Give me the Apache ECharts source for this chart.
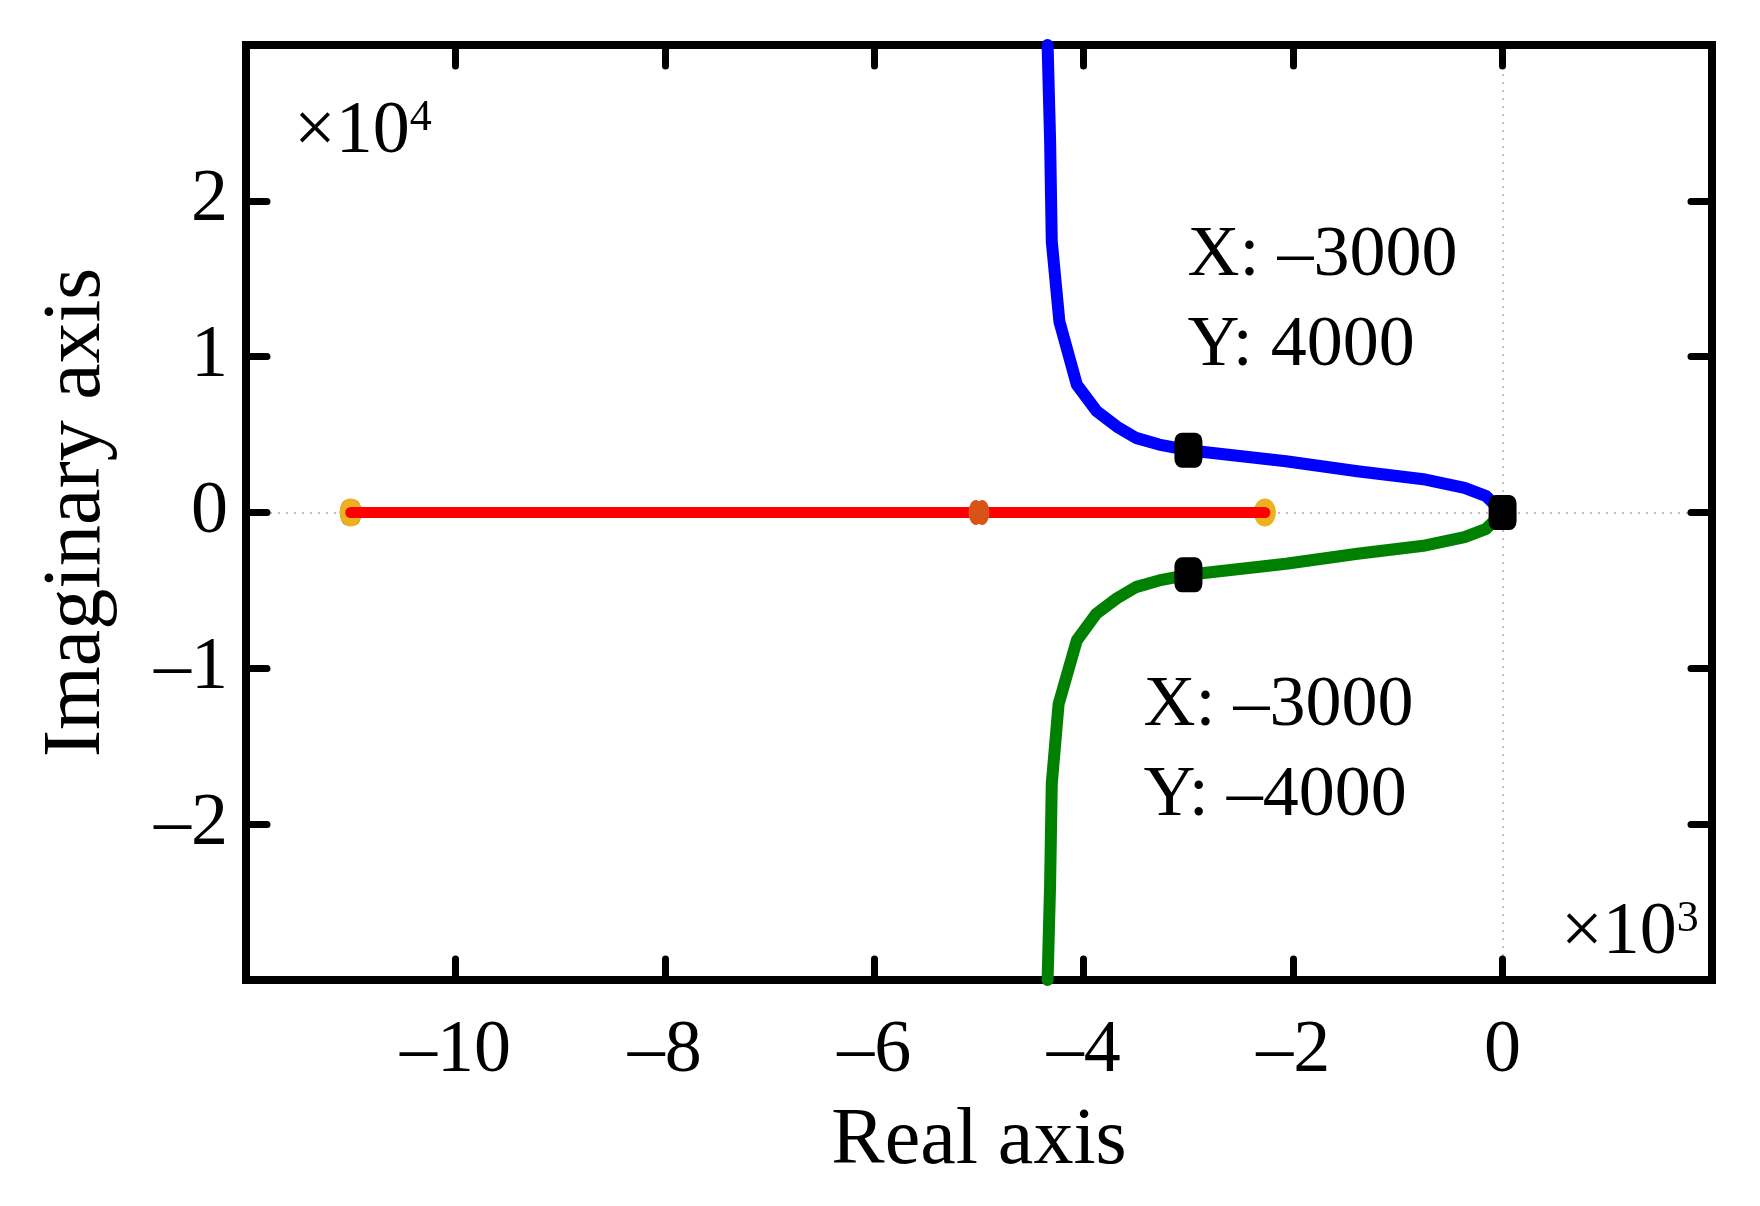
<!DOCTYPE html>
<html>
<head>
<meta charset="utf-8">
<script src="https://cdn.jsdelivr.net/npm/echarts@6/dist/echarts.min.js"></script>
<style>
  html, body { margin: 0; padding: 0; background: #fff; }
  #chart { width: 1760px; height: 1206px; }
</style>
</head>
<body>
<div id="chart"></div>
<script>
// root locus branches (real part, imaginary part)
var upperX = [-4345, -4321, -4305, -4232, -4066, -3875, -3684, -3502, -3280, -3000, -2068, -1386, -736, -363, -156, 0];
var upperY = [30000, 23865, 17385, 12244, 8205, 6494, 5513, 4788, 4359, 4000, 3290, 2650, 2115, 1581, 1047, 0];
var lowerX = [-4345, -4321, -4305, -4240, -4066, -3880, -3684, -3502, -3280, -3000, -2068, -1386, -736, -363, -156, 0];
var lowerY = [-30000, -23865, -17385, -12300, -8205, -6494, -5513, -4788, -4359, -4000, -3290, -2650, -2115, -1581, -1047, 0];
// real-axis segment
var realX = [-11000, -2270];
var realY = [0, 0];
// pole / zero markers on the real axis
var poleX = [-11000, -2270];
var zeroX = [-11000, -5000];
// data tips
var tipX = [-3000, -3000, 0];
var tipY = [4000, -4000, 0];
// axes
var xTicks = { min: -12000, max: 2000, interval: 2000, scale: 1000 };
var yTicks = { min: -30000, max: 30000, interval: 10000, scale: 10000 };

var FONT = 'Liberation Serif';
var chart = echarts.init(document.getElementById('chart'));

function pairs(xs, ys) {
  var out = [];
  for (var i = 0; i < xs.length; i++) out.push([xs[i], ys[i]]);
  return out;
}
function dash(v) {
  return v < 0 ? '\u2013' + Math.abs(v) : '' + v;
}
var ellipse = 'path://M0,-1A1,1 0 1,1 0,1A1,1 0 1,1 0,-1Z';
var twoLobes = 'path://M-0.4,-1A0.9,1 0 1,0 -0.4,1A0.9,1 0 1,0 -0.4,-1ZM0.4,-1A0.9,1 0 1,0 0.4,1A0.9,1 0 1,0 0.4,-1Z';

var lineAxis = { show: true, onZero: false, lineStyle: { color: '#000', width: 8, cap: 'square' } };
var tick = { show: true, inside: true, length: 21, lineStyle: { color: '#000', width: 7, cap: 'round' } };

var tipData = [];
var tipLabels = [
  { show: true, position: [13, -222] },
  { show: true, position: [-31, 104] },
  { show: false }
];
for (var i = 0; i < tipX.length; i++) {
  tipData.push({ value: [tipX[i], tipY[i]], label: tipLabels[i] });
}

var option = {
  animation: false,
  backgroundColor: '#fff',
  textStyle: { fontFamily: FONT },
  grid: { left: 246, right: 48, top: 45, bottom: 226 },
  xAxis: [{
    type: 'value', position: 'bottom',
    min: xTicks.min, max: xTicks.max, interval: xTicks.interval,
    axisLine: lineAxis, axisTick: tick, splitLine: { show: false },
    axisLabel: {
      margin: 35, color: '#000', fontSize: 74, fontFamily: FONT,
      showMinLabel: false, showMaxLabel: false,
      formatter: function (v) { return dash(v / xTicks.scale); }
    },
    name: 'Real axis', nameLocation: 'middle', nameGap: 122,
    nameTextStyle: { color: '#000', fontSize: 80, fontFamily: FONT }
  }, {
    type: 'value', position: 'top',
    min: xTicks.min, max: xTicks.max, interval: xTicks.interval,
    axisLine: lineAxis, axisTick: tick, splitLine: { show: false },
    axisLabel: { show: false }
  }],
  yAxis: [{
    type: 'value', position: 'left',
    min: yTicks.min, max: yTicks.max, interval: yTicks.interval,
    axisLine: lineAxis, axisTick: tick, splitLine: { show: false },
    axisLabel: {
      margin: 18, color: '#000', fontSize: 74, fontFamily: FONT,
      showMinLabel: false, showMaxLabel: false,
      formatter: function (v) { return dash(v / yTicks.scale); }
    },
    name: 'Imaginary axis', nameLocation: 'middle', nameGap: 128,
    nameTextStyle: { color: '#000', fontSize: 82, fontFamily: FONT }
  }, {
    type: 'value', position: 'right',
    min: yTicks.min, max: yTicks.max, interval: yTicks.interval,
    axisLine: lineAxis, axisTick: tick, splitLine: { show: false },
    axisLabel: { show: false }
  }],
  graphic: [{
    type: 'text', left: 294, top: 96, z: 100,
    style: {
      text: '\u00d710{s|4}', fill: '#000', font: '74px "' + FONT + '"',
      rich: { s: { fontSize: 44, fontFamily: FONT, verticalAlign: 'top', fill: '#000' } }
    }
  }, {
    type: 'text', left: 1561, top: 897, z: 100,
    style: {
      text: '\u00d710{s|3}', fill: '#000', font: '74px "' + FONT + '"',
      rich: { s: { fontSize: 44, fontFamily: FONT, verticalAlign: 'top', fill: '#000' } }
    }
  }],
  series: [{
    // dotted zero lines, drawn under everything
    type: 'line', name: 'zero-lines', z: 0,
    data: [], showSymbol: false,
    markLine: {
      z: 0, silent: true, symbol: 'none', label: { show: false },
      lineStyle: { color: '#aaaaaa', width: 1.5, type: [2, 6] },
      data: [{ xAxis: 0 }, { yAxis: 0 }]
    }
  }, {
    type: 'scatter', name: 'zeros-under', z: 1,
    data: pairs(zeroX.slice(0, 1), [0]),
    symbol: twoLobes, symbolSize: [22, 26],
    itemStyle: { color: '#D95319', opacity: 1 }
  }, {
    type: 'scatter', name: 'poles', z: 2,
    data: pairs(poleX, [0, 0]),
    symbol: ellipse, symbolSize: [22, 28],
    itemStyle: { color: '#EDB120', opacity: 1 }
  }, {
    type: 'line', name: 'real', z: 3,
    data: pairs(realX, realY), showSymbol: false,
    lineStyle: { color: '#ff0000', width: 11, cap: 'round' }
  }, {
    type: 'scatter', name: 'zeros', z: 4,
    data: pairs(zeroX.slice(1), [0]),
    symbol: twoLobes, symbolSize: [21, 25],
    itemStyle: { color: '#D95319', opacity: 1 }
  }, {
    type: 'line', name: 'upper', z: 5,
    data: pairs(upperX, upperY), showSymbol: false,
    lineStyle: { color: '#0000ff', width: 12, cap: 'round', join: 'round' }
  }, {
    type: 'line', name: 'lower', z: 5,
    data: pairs(lowerX, lowerY), showSymbol: false,
    lineStyle: { color: '#008000', width: 12, cap: 'round', join: 'round' }
  }, {
    type: 'scatter', name: 'tips', z: 10,
    data: tipData,
    symbol: 'roundRect', symbolSize: [28, 35],
    itemStyle: { color: '#000', opacity: 1 },
    label: {
      align: 'left', verticalAlign: 'top', color: '#000', opacity: 1,
      fontSize: 72, lineHeight: 90, fontFamily: FONT,
      formatter: function (p) {
        return 'X: ' + dash(p.value[0]) + '\nY: ' + dash(p.value[1]);
      }
    }
  }]
};
chart.setOption(option);
</script>
</body>
</html>
